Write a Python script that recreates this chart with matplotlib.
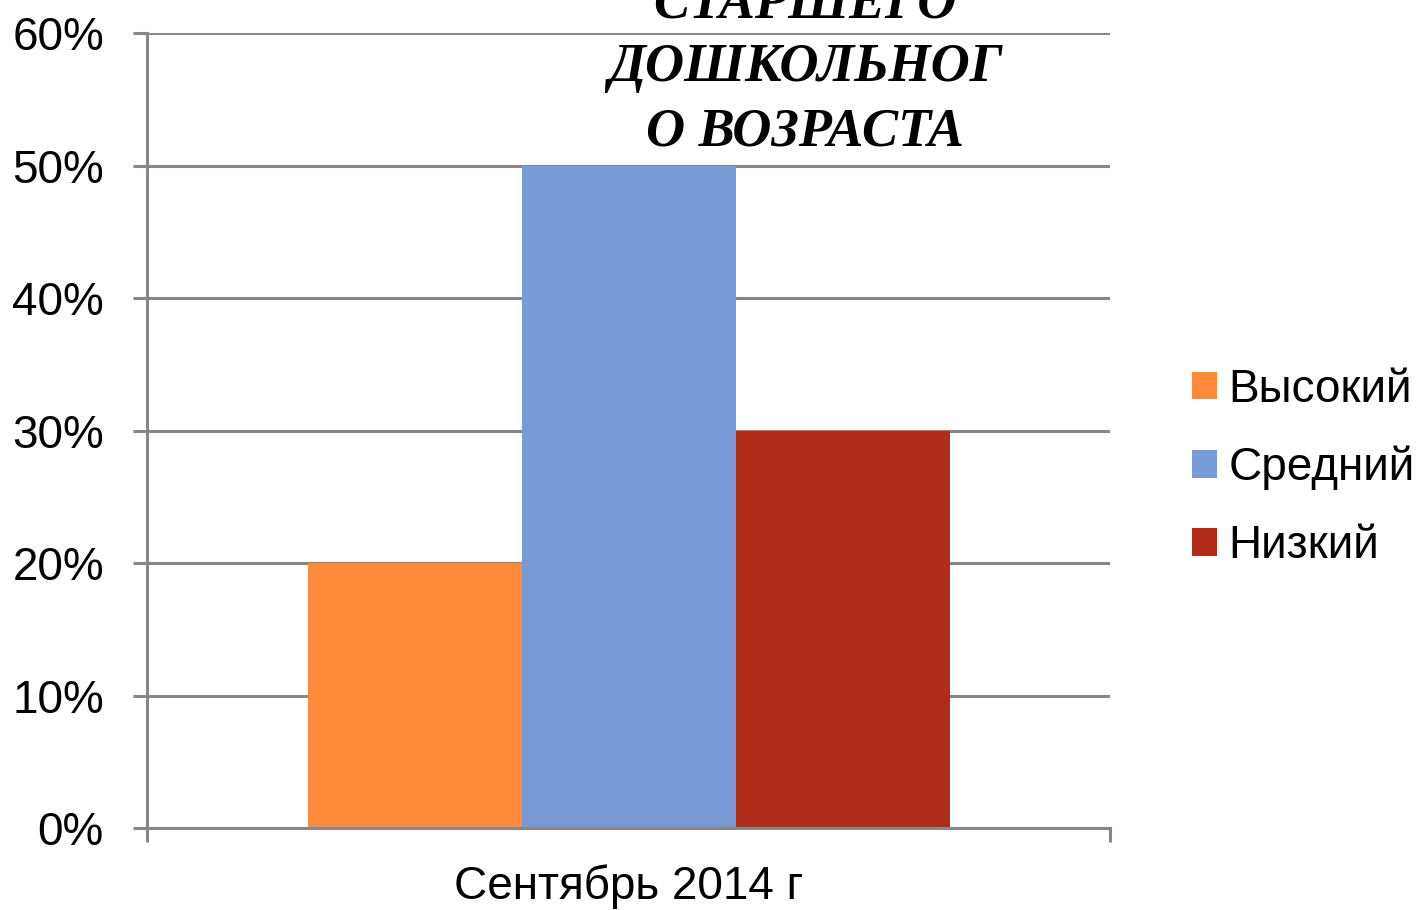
import matplotlib.pyplot as plt
from matplotlib.ticker import PercentFormatter

# данные
category = "Сентябрь 2014 г"
levels = ["Высокий", "Средний", "Низкий"]
values = [20, 50, 30]
colors = ["#FE8A3A", "#789AD7", "#B12C18"]
title = "СТАРШЕГО\nДОШКОЛЬНОГ\nО ВОЗРАСТА"

plt.rcParams['font.family'] = ['Liberation Sans', 'DejaVu Sans']
grey = "#878787"

fig = plt.figure(figsize=(14.27, 9.10), dpi=100)
ax = fig.add_axes([0.1030, 0.0901, 0.6749, 0.8736])

width = 0.2222
for i, (lvl, v, c) in enumerate(zip(levels, values, colors)):
    ax.bar((i - 1) * width, v, width=width, color=c, label=lvl, zorder=2)

ax.set_xlim(-0.5, 0.5)
ax.set_ylim(0, 60)
ax.set_yticks(range(0, 61, 10))
ax.yaxis.set_major_formatter(PercentFormatter(decimals=0))
ax.grid(axis='y', color=grey, linewidth=2.2, zorder=0)
ax.set_axisbelow(True)

ax.set_xticks([0])
ax.set_xticklabels([category])
ax.set_xticks([-0.5, 0.5], minor=True)
ax.tick_params(axis='x', which='major', length=0, pad=26, labelsize=33)
ax.tick_params(axis='x', which='minor', length=10, width=2.2, color=grey)
ax.tick_params(axis='y', length=10, width=2.2, color=grey, pad=21, labelsize=33)

for s in ['top', 'right']:
    ax.spines[s].set_visible(False)
for s in ['left', 'bottom']:
    ax.spines[s].set_color(grey)
    ax.spines[s].set_linewidth(2.2)

fig.legend(loc='center left', bbox_to_anchor=(1192 / 1427, 1 - 468 / 910),
           frameon=False, fontsize=33, handlelength=0.55, handleheight=0.55,
           handletextpad=0.25, labelspacing=0.74, borderpad=0, borderaxespad=0)

fig.text(805 / 1427, 1 - 145 / 910, title, ha='center', va='baseline',
         family='Liberation Serif', fontweight='bold', fontstyle='italic',
         fontsize=39, linespacing=1.36)

fig.savefig("out.png", dpi=100)
